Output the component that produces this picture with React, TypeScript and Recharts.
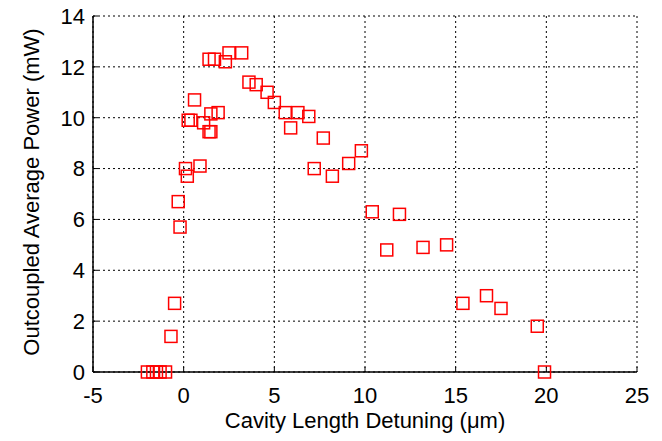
import React from 'react';
import { ScatterChart, Scatter, XAxis, YAxis, CartesianGrid } from 'recharts';

// cavity length detuning (um) and outcoupled power (mW)
const detuning = [
  -2.0, -1.7, -1.5, -1.3, -1.0,
  -0.7, -0.5, -0.2, -0.3, 0.2, 0.1, 0.9,
  0.25, 0.4, 0.6, 1.1, 1.4, 1.5, 1.5, 1.9,
  1.4, 1.7, 2.3, 2.5, 3.2,
  3.6, 4.0, 4.6, 5.0, 5.6, 6.3, 6.9, 5.9,
  7.7, 9.8, 9.1, 7.2, 8.2,
  10.4, 11.9, 11.2, 13.2, 14.5,
  15.4, 16.7, 17.5, 19.5, 19.9,
];
const power = [
  0, 0, 0, 0, 0,
  1.4, 2.7, 5.7, 6.7, 7.7, 8.0, 8.1,
  9.9, 9.9, 10.7, 9.8, 9.45, 9.45, 10.15, 10.2,
  12.3, 12.3, 12.2, 12.55, 12.55,
  11.4, 11.3, 11.0, 10.6, 10.2, 10.2, 10.05, 9.6,
  9.2, 8.7, 8.2, 8.0, 7.7,
  6.3, 6.2, 4.8, 4.9, 5.0,
  2.7, 3.0, 2.5, 1.8, 0,
];
const xTicks = [-5, 0, 5, 10, 15, 20, 25];
const yTicks = [0, 2, 4, 6, 8, 10, 12, 14];

const points = detuning.map((x, i) => ({ x, y: power[i] }));

const FONT = '"Liberation Sans", Arial, sans-serif';
const RED = '#ff0000';
const tickStyle = { fontFamily: FONT, fontSize: 22, fill: '#000' };

// open square marker, like matlab 's'
function Square(props: any) {
  const { cx, cy } = props;
  if (cx == null || cy == null) return <g />;
  return (
    <rect x={cx - 6} y={cy - 6} width={12} height={12} fill="none" stroke={RED} strokeWidth={1.5} />
  );
}

export default function App() {
  return (
    <div style={{ position: 'absolute', left: 0, top: 0, background: '#fff' }}>
      <ScatterChart width={662} height={441} margin={{ top: 16, right: 25, bottom: 0, left: 0 }}>
        <CartesianGrid stroke="#000" strokeDasharray="2 3" strokeWidth={1} />

        <XAxis
          type="number"
          dataKey="x"
          domain={[-5, 25]}
          ticks={xTicks}
          height={69}
          axisLine={{ stroke: '#000', strokeWidth: 1.5 }}
          tickLine={{ stroke: '#000' }}
          tickSize={-5}
          tickMargin={20}
          tick={tickStyle}
          label={{
            content: ({ viewBox }: any) => (
              <text
                x={viewBox.x + viewBox.width / 2}
                y={428}
                textAnchor="middle"
                fontFamily={FONT}
                fontSize={22}
                fill="#000"
              >
                Cavity Length Detuning (μm)
              </text>
            ),
          }}
        />
        <YAxis
          type="number"
          dataKey="y"
          domain={[0, 14]}
          ticks={yTicks}
          width={93}
          axisLine={{ stroke: '#000', strokeWidth: 1.5 }}
          tickLine={{ stroke: '#000' }}
          tickSize={-5}
          tickMargin={13}
          tick={tickStyle}
          label={{
            content: ({ viewBox }: any) => {
              const cy = viewBox.y + viewBox.height / 2 - 2;
              return (
                <text
                  x={39}
                  y={cy}
                  transform={`rotate(-90 39 ${cy})`}
                  textAnchor="middle"
                  fontFamily={FONT}
                  fontSize={22}
                  fill="#000"
                >
                  Outcoupled Average Power (mW)
                </text>
              );
            },
          }}
        />

        {/* box: top and right edges */}
        <XAxis
          xAxisId="top"
          orientation="top"
          type="number"
          domain={[-5, 25]}
          ticks={xTicks}
          height={0}
          axisLine={{ stroke: '#000', strokeWidth: 1.5 }}
          tickLine={{ stroke: '#000' }}
          tickSize={-5}
          tick={false}
        />
        <YAxis
          yAxisId="right"
          orientation="right"
          type="number"
          domain={[0, 14]}
          ticks={yTicks}
          width={0}
          axisLine={{ stroke: '#000', strokeWidth: 1.5 }}
          tickLine={{ stroke: '#000' }}
          tickSize={-5}
          tick={false}
        />

        <Scatter data={points} shape={<Square />} isAnimationActive={false} />
      </ScatterChart>
    </div>
  );
}
